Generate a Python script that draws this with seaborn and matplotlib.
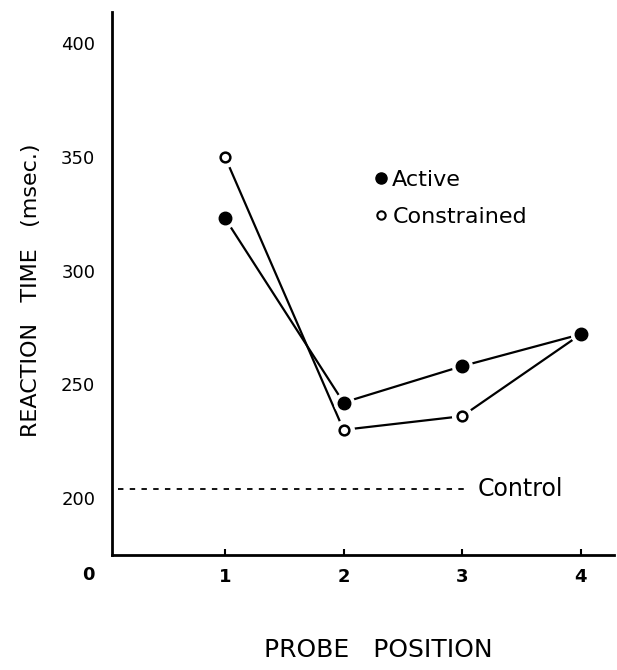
import numpy as np
import pandas as pd
import matplotlib
matplotlib.use('Agg')
import matplotlib.pyplot as plt
from matplotlib.lines import Line2D
import seaborn as sns

# Data
positions = [1, 2, 3, 4]
active_rt = [323, 242, 258, 272]
constrained_rt = [350, 230, 236, 272]
control_rt = 204
y_ticks = [200, 250, 300, 350, 400]

df = pd.DataFrame({
    'position': positions * 2,
    'rt': active_rt + constrained_rt,
    'condition': ['Active'] * 4 + ['Constrained'] * 4,
})

sns.set_theme(style='white')
plt.rcParams['font.family'] = ['DejaVu Sans']
plt.rcParams['text.color'] = 'black'
plt.rcParams['xtick.color'] = 'black'
plt.rcParams['ytick.color'] = 'black'

fig = plt.figure(figsize=(6.17, 6.70), dpi=100)
ax = fig.add_axes([112 / 617, 1 - 555 / 670, 502 / 617, 543 / 670])

# connecting lines
sns.lineplot(data=df, x='position', y='rt', hue='condition',
             palette={'Active': 'black', 'Constrained': 'black'},
             linewidth=1.6, legend=False, ax=ax, zorder=2)

# white halos so the lines stop short of the points
ax.scatter(df['position'], df['rt'], s=230, color='white', zorder=3, linewidths=0)

# markers
ax.plot(positions, active_rt, 'o', color='black', markersize=9, zorder=4)
ax.plot(positions[:3], constrained_rt[:3], 'o', markerfacecolor='white',
        markeredgecolor='black', markeredgewidth=1.8, markersize=7, zorder=4)

# control baseline
ax.hlines(control_rt, 0.1, 3.02, colors='black', linestyles=(0, (3, 3.5)), linewidth=1.3)
ax.text(3.13, control_rt, 'Control', fontsize=17, va='center', ha='left')

ax.set_xlim(0.048, 4.28)
ax.set_ylim(175, 413.6)
ax.set_xticks(positions)
ax.set_xticklabels([str(p) for p in positions], fontweight='bold', fontsize=13)
ax.set_yticks(y_ticks)
ax.set_yticklabels([str(t) for t in y_ticks], fontsize=13)
ax.tick_params(axis='x', direction='in', length=4, width=1.5, pad=9, bottom=True)
ax.tick_params(axis='y', length=0, pad=12)
ax.set_xlabel('')
ax.set_ylabel('')

for side in ['top', 'right']:
    ax.spines[side].set_visible(False)
for side in ['left', 'bottom']:
    ax.spines[side].set_color('black')
    ax.spines[side].set_linewidth(2)

handles = [
    Line2D([], [], linestyle='none', marker='o', color='black', markersize=8),
    Line2D([], [], linestyle='none', marker='o', markerfacecolor='white',
           markeredgecolor='black', markeredgewidth=1.5, markersize=6),
]
ax.legend(handles, ['Active', 'Constrained'], loc='upper left',
          bbox_to_anchor=(0.503, 0.73), frameon=False, fontsize=16,
          handlelength=0.5, handletextpad=0.25, labelspacing=0.77, borderpad=0)

fig.text(88 / 617, 1 - 575 / 670, '0', fontsize=13, fontweight='bold',
         ha='center', va='center')
fig.text(31 / 617, 1 - 290 / 670, 'REACTION   TIME   (msec.)', rotation=90,
         fontsize=16, ha='center', va='center')
fig.text(378 / 617, 1 - 650 / 670, 'PROBE   POSITION', fontsize=18,
         ha='center', va='center')

fig.savefig('out.png', dpi=100)
